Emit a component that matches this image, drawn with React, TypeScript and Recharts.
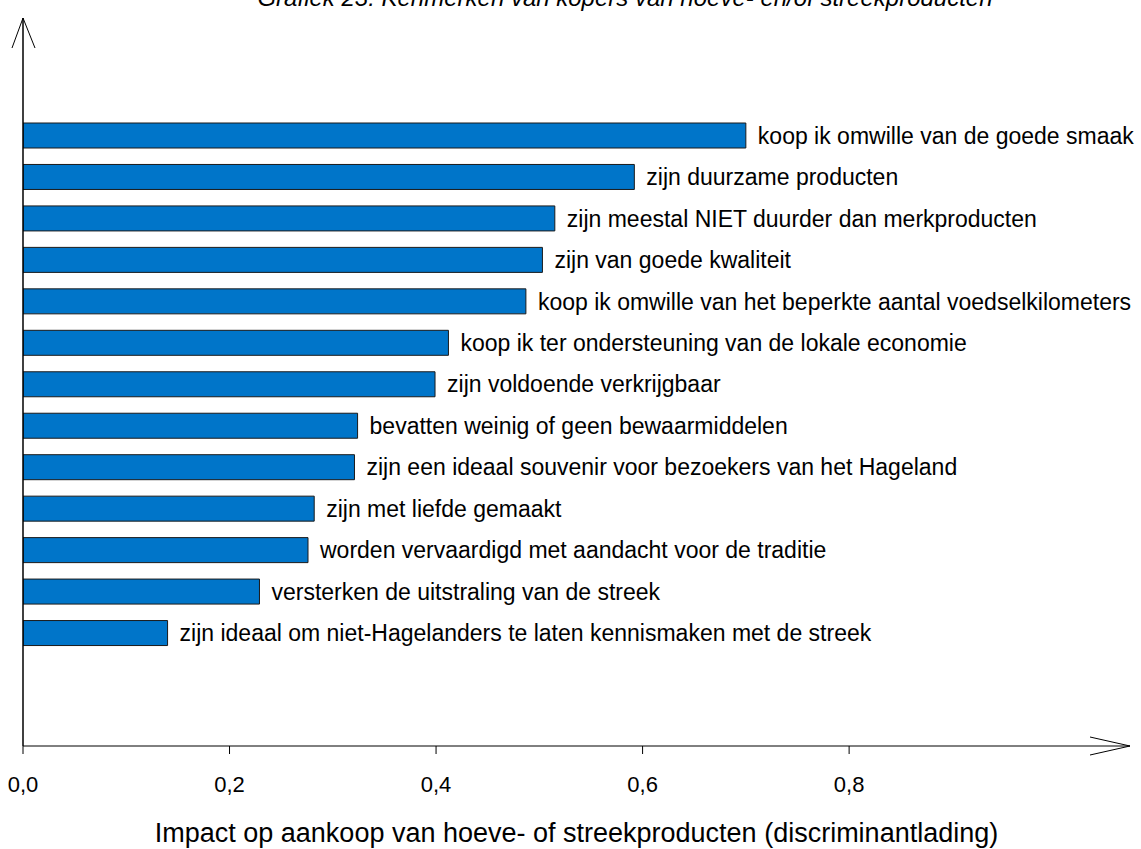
import { Bar, BarChart, LabelList, XAxis, YAxis, Label } from "recharts";

const statements = [
    "koop ik omwille van de goede smaak",
    "zijn duurzame producten",
    "zijn meestal NIET duurder dan merkproducten",
    "zijn van goede kwaliteit",
    "koop ik omwille van het beperkte aantal voedselkilometers",
    "koop ik ter ondersteuning van de lokale economie",
    "zijn voldoende verkrijgbaar",
    "bevatten weinig of geen bewaarmiddelen",
    "zijn een ideaal souvenir voor bezoekers van het Hageland",
    "zijn met liefde gemaakt",
    "worden vervaardigd met aandacht voor de traditie",
    "versterken de uitstraling van de streek",
    "zijn ideaal om niet-Hagelanders te laten kennismaken met de streek",
];

const loadings = [0.70, 0.592, 0.515, 0.503, 0.487, 0.412, 0.399, 0.324, 0.321, 0.282, 0.276, 0.229, 0.140];

const xTicks = [0, 0.2, 0.4, 0.6, 0.8];

const title = "Grafiek 23: Kenmerken van kopers van hoeve- en/of streekproducten";
const xTitle = "Impact op aankoop van hoeve- of streekproducten (discriminantlading)";

const W = 1141;
const H = 849;
const M = { top: 18, right: 11, bottom: 2, left: 22 };
const Y_AXIS_W = 1;
const X_AXIS_H = 101;
const FONT = "'Liberation Sans', Arial, sans-serif";

const data = statements.map((name, i) => ({ name, value: loadings[i] }));

export default function App() {
    const plotLeft = M.left + Y_AXIS_W;
    const plotRight = W - M.right;
    const plotBottom = H - M.bottom - X_AXIS_H;

    return (
        <div style={{ position: "absolute", left: 0, top: 0, width: W, height: H, background: "#fff", fontFamily: FONT }}>
            <BarChart
                width={W}
                height={H}
                data={data}
                layout="vertical"
                margin={M}
            >
                <XAxis
                    type="number"
                    domain={[0, 1.072]}
                    ticks={xTicks}
                    allowDataOverflow
                    height={X_AXIS_H}
                    axisLine={{ stroke: "#000", strokeWidth: 1 }}
                    tickLine={{ stroke: "#000" }}
                    tickSize={8}
                    tickMargin={22}
                    tick={{ fontSize: 22, fill: "#000", fontFamily: FONT }}
                    tickFormatter={(v: number) => v.toFixed(1).replace(".", ",")}
                >
                    <Label
                        value={xTitle}
                        position="insideBottom"
                        offset={5}
                        style={{ fontSize: 27, fill: "#000", fontFamily: FONT }}
                    />
                </XAxis>
                <YAxis
                    type="category"
                    dataKey="name"
                    width={Y_AXIS_W}
                    tick={false}
                    tickLine={false}
                    axisLine={{ stroke: "#000", strokeWidth: 1.5 }}
                    padding={{ top: 97, bottom: 92 }}
                />
                <Bar
                    dataKey="value"
                    fill="#0075C9"
                    stroke="#1a1a1a"
                    strokeWidth={1}
                    barSize={25}
                    isAnimationActive={false}
                >
                    <LabelList
                        dataKey="name"
                        position="right"
                        offset={12}
                        style={{ fontSize: 23, fill: "#000", fontFamily: FONT }}
                    />
                </Bar>
            </BarChart>
            <svg
                width={W}
                height={H}
                style={{ position: "absolute", left: 0, top: 0, pointerEvents: "none" }}
            >
                <text
                    x={625}
                    y={6}
                    textAnchor="middle"
                    fontSize={24}
                    fontStyle="italic"
                    fontFamily={FONT}
                    fill="#000"
                >
                    {title}
                </text>
                <polyline
                    points={`${plotLeft - 11},${M.top + 30} ${plotLeft},${M.top} ${plotLeft + 12},${M.top + 30}`}
                    fill="none"
                    stroke="#000"
                    strokeWidth={1}
                />
                <polyline
                    points={`${plotRight - 40},${plotBottom - 9} ${plotRight},${plotBottom} ${plotRight - 40},${plotBottom + 9}`}
                    fill="none"
                    stroke="#000"
                    strokeWidth={1}
                />
            </svg>
        </div>
    );
}
